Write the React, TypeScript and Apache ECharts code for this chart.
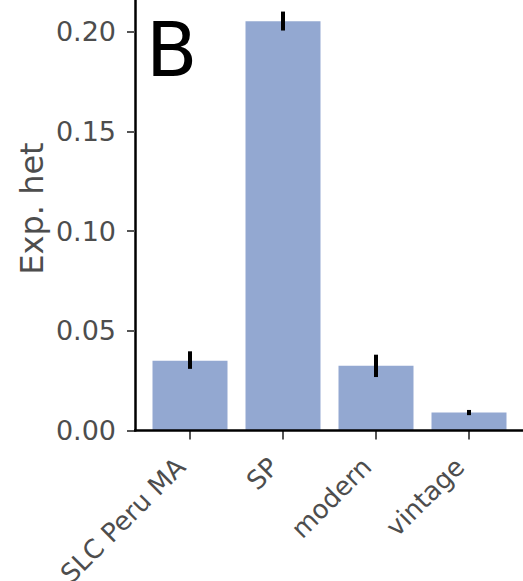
import React, { useEffect, useRef } from "react";
import * as echarts from "echarts";

const categories = ["SLC Peru MA", "SP", "modern", "vintage"];
const values = [0.035, 0.2052, 0.0325, 0.009];
const errLow = [0.0309, 0.2005, 0.0268, 0.0077];
const errHigh = [0.0397, 0.21, 0.038, 0.0103];
const yTickValues = [0, 0.05, 0.1, 0.15, 0.2];
const yMax = 0.2158;
const yTitle = "Exp. het";
const panelLabel = "B";

const FONT = "DejaVu Sans";
const LABEL = "#4d4d4d";

export default function App() {
  const ref = useRef<HTMLDivElement>(null);
  useEffect(() => {
    const chart = echarts.init(ref.current!, null, { renderer: "svg" });
    chart.setOption({
      animation: false,
      backgroundColor: "#ffffff",
      grid: { left: 143.5, right: 7.5, top: 0, bottom: 150.5, outerBoundsMode: "none", containLabel: false },
      xAxis: {
        type: "category",
        data: categories,
        axisLine: { show: false },
        axisTick: {
          show: true,
          alignWithLabel: true,
          length: 9,
          lineStyle: { color: "#555555", width: 2 },
        },
        axisLabel: {
          rotate: 45,
          margin: 41,
          verticalAlign: "bottom",
          fontSize: 26,
          fontFamily: FONT,
          color: LABEL,
        },
      },
      yAxis: {
        type: "value",
        min: 0,
        max: yMax,
        interval: 0.05,
        offset: 8.5,
        splitLine: { show: false },
        axisLine: { show: true, lineStyle: { color: "#000000", width: 2.5 } },
        axisTick: {
          show: true,
          length: 8,
          customValues: yTickValues,
          lineStyle: { color: "#555555", width: 2 },
        },
        axisLabel: {
          fontSize: 27,
          fontFamily: FONT,
          color: LABEL,
          margin: 19,
          customValues: yTickValues,
          formatter: (v: number) => v.toFixed(2),
        },
      },
      graphic: [
        {
          type: "line",
          shape: { x1: 134, y1: 430.5, x2: 523, y2: 430.5 },
          style: { stroke: "#000000", lineWidth: 2.5 },
          z: 100,
        },
        {
          type: "text",
          x: 32,
          y: 208.5,
          rotation: Math.PI / 2,
          style: {
            text: yTitle,
            fontSize: 32,
            fontFamily: FONT,
            fill: LABEL,
            align: "center",
            verticalAlign: "middle",
          },
          z: 100,
        },
        {
          type: "text",
          left: 146,
          top: 12,
          style: { text: panelLabel, fontSize: 75, fontFamily: FONT, fill: "#000000" },
          z: 100,
        },
      ],
      series: [
        {
          type: "bar",
          data: values,
          barWidth: 75,
          itemStyle: { color: "#93a8d1" },
        },
        {
          type: "custom",
          data: categories.map((_, i) => [i, errLow[i], errHigh[i]]),
          renderItem: (params: any, api: any) => {
            const x = api.value(0);
            const p1 = api.coord([x, api.value(1)]);
            const p2 = api.coord([x, api.value(2)]);
            return {
              type: "line",
              shape: { x1: p1[0], y1: p1[1], x2: p2[0], y2: p2[1] },
              style: { stroke: "#000000", lineWidth: 4 },
            };
          },
          z: 10,
        },
      ],
    });
    return () => chart.dispose();
  }, []);
  return <div ref={ref} style={{ width: 523, height: 581, position: "absolute", left: 0, top: 0 }} />;
}
